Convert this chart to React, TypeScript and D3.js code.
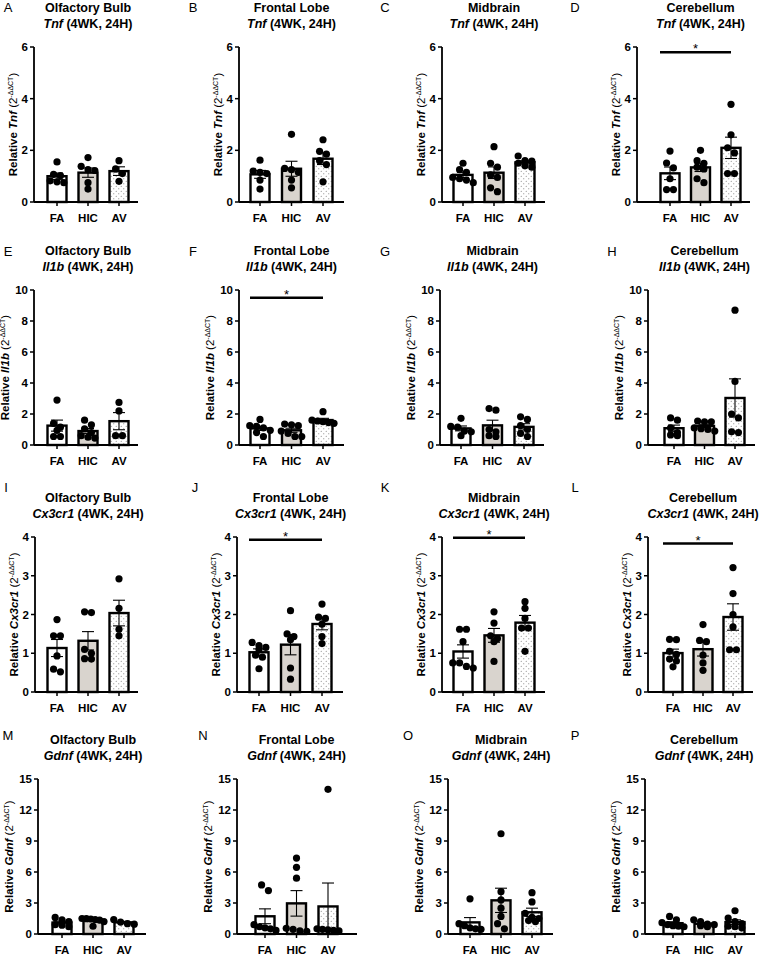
import React from 'react';
import * as d3 from 'd3';

// ---------- data ----------
const groups = ['FA', 'HIC', 'AV'];
const regions = ['Olfactory Bulb', 'Frontal Lobe', 'Midbrain', 'Cerebellum'];
const genes = ['Tnf', 'Il1b', 'Cx3cr1', 'Gdnf'];
const letters = ['A', 'B', 'C', 'D', 'E', 'F', 'G', 'H', 'I', 'J', 'K', 'L', 'M', 'N', 'O', 'P'];
const yMaxByGene = [6, 10, 4, 15];
const yStepByGene = [2, 2, 1, 3];

const tnfOB = [[1.55, 1.07, 1.02, 0.82, 0.78, 0.75], [1.72, 1.38, 1.22, 1.25, 0.75, 0.5], [1.6, 1.28, 1.1, 0.8]];
const tnfFL = [[1.62, 1.2, 1.15, 1.1, 0.85, 0.5], [2.62, 1.3, 1.25, 1.15, 0.85, 0.55], [2.41, 1.96, 1.85, 1.6, 1.45, 0.78]];
const tnfMB = [[1.5, 1.25, 1.15, 0.95, 0.9, 0.85, 0.75], [2.14, 1.5, 1.35, 1.05, 0.95, 0.55, 0.4], [1.78, 1.6, 1.58, 1.5, 1.4, 1.35]];
const tnfCB = [[1.97, 1.51, 1.32, 0.9, 0.48, 0.48], [2.0, 1.6, 1.5, 1.35, 1.28, 0.9, 0.75], [3.78, 2.6, 2.1, 1.9, 1.1, 1.1]];
const il1bOB = [[2.9, 1.4, 1.15, 0.95, 0.55, 0.55], [1.6, 1.3, 1.05, 0.8, 0.6, 0.5, 0.45], [2.75, 2.2, 0.6, 0.6]];
const il1bFL = [[1.65, 1.25, 1.2, 1.1, 0.95, 0.8, 0.55], [1.35, 1.3, 1.25, 0.9, 0.75, 0.55, 0.55], [2.15, 1.6, 1.55, 1.5, 1.45, 1.4]];
const il1bMB = [[1.72, 1.2, 1.15, 0.9, 0.85, 0.6], [2.35, 2.25, 1.0, 0.85, 0.6, 0.55], [1.82, 1.65, 1.25, 1.0, 0.75, 0.55]];
const il1bCB = [[1.75, 1.6, 1.1, 0.8, 0.65, 0.6], [1.55, 1.5, 1.5, 1.1, 1.05, 1.0, 0.9], [8.7, 4.1, 2.0, 1.75, 0.85, 0.8]];
const cx3OB = [[1.87, 1.45, 1.45, 0.93, 0.52, 0.59], [2.05, 2.07, 1.1, 1.0, 0.85, 0.86], [2.92, 2.16, 1.62, 1.45]];
const cx3FL = [[1.28, 1.2, 1.15, 1.1, 0.95, 0.9, 0.6], [2.1, 1.5, 1.43, 1.35, 0.62, 0.33], [2.27, 1.93, 1.9, 1.75, 1.43, 1.25]];
const cx3MB = [[1.62, 1.62, 1.3, 0.75, 0.75, 0.62, 0.66], [2.07, 1.78, 1.45, 1.38, 1.3, 0.79], [2.33, 2.16, 1.9, 1.65, 1.65, 1.05]];
const cx3CB = [[1.35, 1.36, 1.05, 0.97, 0.85, 0.65, 0.8], [1.74, 1.33, 1.3, 0.95, 0.75, 0.56], [3.21, 2.54, 2.0, 1.68, 1.09, 1.09]];
const gdnfOB = [[1.6, 1.38, 1.2, 0.9, 0.85, 0.7], [1.5, 1.48, 1.45, 1.4, 1.35, 1.2, 0.75], [1.4, 1.15, 1.0, 0.95]];
const gdnfFL = [[4.75, 4.2, 0.9, 0.7, 0.6, 0.5, 0.35], [7.35, 6.45, 5.4, 0.55, 0.45, 0.3, 0.25], [14.0, 0.5, 0.45, 0.4, 0.35, 0.3]];
const gdnfMB = [[3.4, 1.0, 0.8, 0.6, 0.5, 0.45], [9.7, 4.1, 3.3, 2.5, 1.7, 1.0, 0.5], [4.0, 3.1, 2.0, 1.6, 1.5, 1.3, 1.2]];
const gdnfCB = [[1.7, 1.38, 1.1, 0.9, 0.8, 0.75, 0.7], [1.38, 1.2, 0.96, 0.9, 0.8, 0.7], [2.25, 1.55, 1.2, 1.0, 0.75, 0.7, 0.6]];

const panelData = [
  tnfOB, tnfFL, tnfMB, tnfCB,
  il1bOB, il1bFL, il1bMB, il1bCB,
  cx3OB, cx3FL, cx3MB, cx3CB,
  gdnfOB, gdnfFL, gdnfMB, gdnfCB,
];

// significance (panel index, y value of the bar)
const sigPanels = [3, 5, 9, 10, 11];
const sigValues = [5.8, 9.5, 3.93, 3.98, 3.83];

// ---------- layout ----------
const rowTop = [47, 290, 537, 779];
const plotH = 155;
const rowLetterY = [7, 251, 487, 735];
// per panel: [axisX, firstBarX, lastBarX, axisEndX, letterX]
const panelLayout = [
  [34, 57, 119, 138, 8], [239, 260, 323, 344, 193], [442, 463, 525, 545, 385], [637, 670, 731, 750, 575],
  [34, 57, 119, 138, 8], [239, 260, 323, 344, 193], [440, 461, 524, 544, 385], [648, 674, 735, 755, 612],
  [35, 57, 119, 138, 6], [237, 259, 322, 343, 195], [442, 463, 525, 545, 385], [648, 673, 733, 753, 575],
  [38, 62, 124, 146, 8], [237, 265, 328, 357, 203], [448, 470, 532, 553, 408], [645, 673, 735, 755, 575],
];

const FONT = "'Liberation Sans', Arial, Helvetica, sans-serif";
const HIC_FILL = '#d9d4ce';
const DOT_R = 3.6;
const BAR_W = 19;
const MAX_HALF = 11;

function swarm(vals: number[], y: (v: number) => number, r: number): number[] {
  const idx = vals.map((_, i) => i).sort((a, b) => y(vals[a]) - y(vals[b]));
  const offsets = new Array(vals.length).fill(0);
  let i = 0;
  while (i < idx.length) {
    const start = y(vals[idx[i]]);
    let j = i;
    while (j + 1 < idx.length && y(vals[idx[j + 1]]) - start < 2 * r * 0.8) j++;
    const n = j - i + 1;
    let gap = 2 * r * 0.95;
    if ((n - 1) / 2 * gap > MAX_HALF) gap = (2 * MAX_HALF) / (n - 1);
    for (let k = 0; k < n; k++) offsets[idx[i + k]] = (k - (n - 1) / 2) * gap;
    i = j + 1;
  }
  return offsets;
}

function Panel({ p }: { p: number }) {
  const row = Math.floor(p / 4);
  const col = p % 4;
  const [ax, x0, x2, xe, lx] = panelLayout[p];
  const top = rowTop[row];
  const bottom = top + plotH;
  const yMax = yMaxByGene[row];
  const step = yStepByGene[row];
  const y = d3.scaleLinear().domain([0, yMax]).range([bottom, top]);
  const x = d3.scalePoint<string>().domain(groups).range([x0, x2]);
  const ticks = d3.range(0, yMax + 0.001, step);
  const gene = genes[row];
  const data = panelData[p];
  const twoDigit = yMax >= 10;
  const ylabX = ax - (twoDigit ? 29 : 21);
  const cy = (top + bottom) / 2;
  const sigIdx = sigPanels.indexOf(p);

  return (
    <g>
      <text x={lx} y={rowLetterY[row] + 4.7} fontSize={13} fontFamily={FONT} textAnchor="middle">{letters[p]}</text>
      <text x={x('HIC')} y={top - 35.5} fontSize={12.5} fontWeight="bold" fontFamily={FONT} textAnchor="middle">{regions[col]}</text>
      <text x={x('HIC')} y={top - 19.5} fontSize={12.5} fontWeight="bold" fontFamily={FONT} textAnchor="middle">
        <tspan fontStyle="italic">{gene}</tspan>
        <tspan> (4WK, 24H)</tspan>
      </text>
      <text transform={`translate(${ylabX + 4},${cy}) rotate(-90)`} fontSize={11.5} fontFamily={FONT} textAnchor="middle">
        <tspan fontWeight="bold">Relative </tspan>
        <tspan fontWeight="bold" fontStyle="italic">{gene}</tspan>
        <tspan> (2</tspan>
        <tspan fontSize={7} dy={-4.5}>-ΔΔCT</tspan>
        <tspan dy={4.5}>)</tspan>
      </text>
      {data.map((vals, gi) => {
        const g = groups[gi];
        const cx = x(g) as number;
        const mean = d3.mean(vals) as number;
        const sem = (d3.deviation(vals) as number) / Math.sqrt(vals.length);
        const fill = gi === 0 ? '#ffffff' : gi === 1 ? HIC_FILL : 'url(#dots)';
        const offs = swarm(vals, y, DOT_R);
        const lo = y(Math.max(0, mean - sem));
        const hi = y(mean + sem);
        return (
          <g key={g}>
            <rect x={cx - BAR_W / 2} y={y(mean)} width={BAR_W} height={bottom - y(mean)} fill={fill} stroke="#000" strokeWidth={2.4} />
            <line x1={cx} x2={cx} y1={hi} y2={lo} stroke="#000" strokeWidth={1.1} />
            <line x1={cx - 6} x2={cx + 6} y1={hi} y2={hi} stroke="#000" strokeWidth={1.1} />
            <line x1={cx - 6} x2={cx + 6} y1={lo} y2={lo} stroke="#000" strokeWidth={1.1} />
            {vals.map((v, i) => (
              <circle key={i} cx={cx + offs[i]} cy={y(v)} r={DOT_R} fill="#000" />
            ))}
          </g>
        );
      })}
      <line x1={ax} x2={ax} y1={top} y2={bottom} stroke="#000" strokeWidth={1.8} />
      <line x1={ax} x2={xe} y1={bottom} y2={bottom} stroke="#000" strokeWidth={1.8} />
      {ticks.map((t) => (
        <g key={t}>
          <line x1={ax - 4} x2={ax} y1={y(t)} y2={y(t)} stroke="#000" strokeWidth={1.5} />
          <text x={ax - 6} y={y(t)} dy="0.35em" fontSize={11.5} fontWeight="bold" fontFamily={FONT} textAnchor="end">{t}</text>
        </g>
      ))}
      {groups.map((g) => (
        <g key={g}>
          <line x1={x(g)} x2={x(g)} y1={bottom} y2={bottom + 4} stroke="#000" strokeWidth={1.5} />
          <text x={x(g)} y={bottom + 20} fontSize={11.5} fontWeight="bold" fontFamily={FONT} textAnchor="middle">{g}</text>
        </g>
      ))}
      {sigIdx >= 0 && (
        <g>
          <line x1={(x('FA') as number) - 10} x2={x('AV') as number} y1={y(sigValues[sigIdx])} y2={y(sigValues[sigIdx])} stroke="#000" strokeWidth={2.5} />
          <text x={((x('FA') as number) - 10 + (x('AV') as number)) / 2} y={y(sigValues[sigIdx]) + 1} fontSize={13} fontFamily={FONT} textAnchor="middle">*</text>
        </g>
      )}
    </g>
  );
}

export default function App() {
  return (
    <svg width={760} height={955} style={{ position: 'absolute', left: 0, top: 0, background: '#fff' }}>
      <defs>
        <pattern id="dots" width={5} height={5} patternUnits="userSpaceOnUse">
          <rect width={5} height={5} fill="#fff" />
          <circle cx={1.25} cy={1.25} r={0.6} fill="#808080" />
          <circle cx={3.75} cy={3.75} r={0.6} fill="#808080" />
        </pattern>
      </defs>
      <rect width={760} height={955} fill="#fff" />
      {d3.range(16).map((p) => <Panel key={p} p={p} />)}
    </svg>
  );
}
